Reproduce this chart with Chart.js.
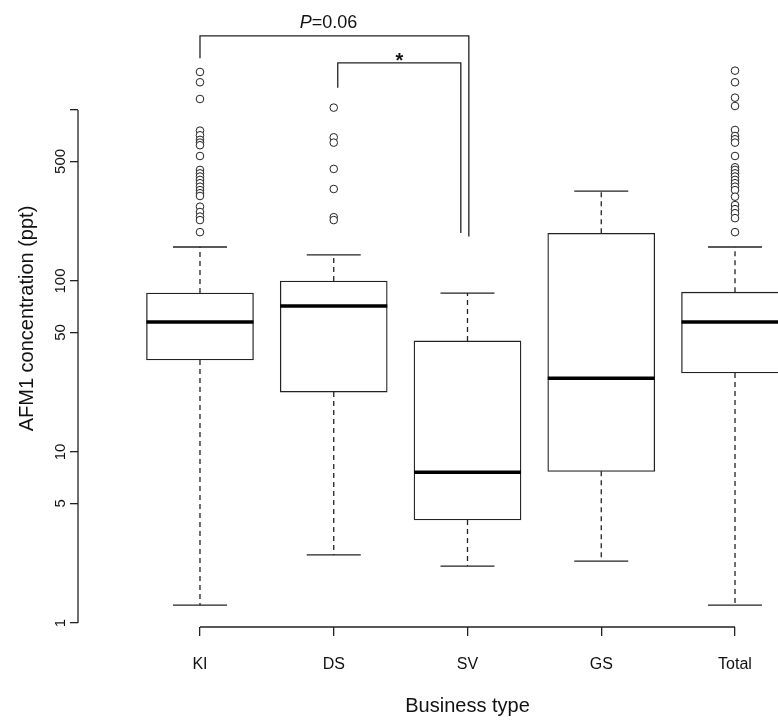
<!DOCTYPE html>
<html>
<head>
<meta charset="utf-8">
<script src="https://cdn.jsdelivr.net/npm/chart.js@4/dist/chart.umd.min.js"></script>
<style>
  html, body { margin: 0; padding: 0; background: #fff; overflow: hidden; }
  #wrap { width: 778px; height: 720px; overflow: hidden; }
</style>
</head>
<body>
<div id="wrap"><canvas id="boxChart" width="857" height="720"></canvas></div>
<script>
// box statistics (ppt)
const categories = ['KI', 'DS', 'SV', 'GS', 'Total'];
const lowerWhisker = [1.27, 2.5, 2.15, 2.3, 1.27];
const q1 = [34.5, 22.4, 4.0, 7.7, 29];
const median = [57.5, 71.4, 7.6, 27, 57.5];
const q3 = [85, 100, 44.6, 190, 86];
const upperWhisker = [158, 142, 85, 335, 158];

const kiOutliers = [1668, 1452, 1159, 757, 711, 668, 644, 622, 538, 446, 426, 408, 390, 373, 356, 340, 326, 314, 272, 253, 238, 227, 193];
const dsOutliers = [1032, 692, 644, 452, 345, 236, 227];
const svOutliers = [];
const gsOutliers = [];
const totalOutliers = [1698, 1452, 1180, 1055, 764, 704, 674, 644, 538, 462, 446, 426, 408, 390, 373, 356, 340, 311, 278, 263, 249, 233, 193];

const yTicks = [1, 5, 10, 50, 100, 500, 1000];
const yTickLabels = ['1', '5', '10', '50', '100', '500', ''];

// significance brackets (x in category index, y in ppt)
const bracketLeft = [0, 1.03];
const bracketRight = [2.01, 1.95];
const bracketTop = [2710, 1883];
const bracketLeftEnd = [2005, 1350];
const bracketRightEnd = [182, 191];
const bracketLabels = ['P=0.06', '*'];

const lineColor = '#222';
const font = '"Liberation Sans", Arial, sans-serif';
const allOutliers = [kiOutliers, dsOutliers, svOutliers, gsOutliers, totalOutliers];

const whiskerPts = [];
const capPts = [];
categories.forEach((c, i) => {
    whiskerPts.push({ x: i, y: q3[i] }, { x: i, y: upperWhisker[i] }, { x: i, y: null });
    whiskerPts.push({ x: i, y: q1[i] }, { x: i, y: lowerWhisker[i] }, { x: i, y: null });
    capPts.push({ x: i, y: upperWhisker[i] }, { x: i, y: lowerWhisker[i] });
});
const outlierPts = [];
allOutliers.forEach((arr, i) => arr.forEach(v => outlierPts.push({ x: i, y: v })));

const extras = {
    id: 'extras',
    afterDraw(chart) {
        const { ctx, scales: { x, y }, chartArea } = chart;
        ctx.save();
        ctx.strokeStyle = lineColor;
        ctx.lineWidth = 1.3;
        // R style axes: lines only span the first..last tick
        ctx.beginPath();
        ctx.moveTo(x.getPixelForValue(0), chartArea.bottom);
        ctx.lineTo(x.getPixelForValue(categories.length - 1), chartArea.bottom);
        ctx.moveTo(chartArea.left, y.getPixelForValue(yTicks[0]));
        ctx.lineTo(chartArea.left, y.getPixelForValue(yTicks[yTicks.length - 1]));
        ctx.stroke();

        bracketLabels.forEach((lab, i) => {
            const xl = x.getPixelForValue(bracketLeft[i]);
            const xr = x.getPixelForValue(bracketRight[i]);
            const yt = y.getPixelForValue(bracketTop[i]);
            ctx.beginPath();
            ctx.moveTo(xl, y.getPixelForValue(bracketLeftEnd[i]));
            ctx.lineTo(xl, yt);
            ctx.lineTo(xr, yt);
            ctx.lineTo(xr, y.getPixelForValue(bracketRightEnd[i]));
            ctx.stroke();

            ctx.fillStyle = '#111';
            ctx.textBaseline = 'alphabetic';
            const cx = (xl + xr) / 2;
            if (lab.startsWith('P')) {
                ctx.font = 'italic 18px ' + font;
                const pW = ctx.measureText('P').width;
                ctx.font = '18px ' + font;
                const rest = lab.slice(1);
                const rW = ctx.measureText(rest).width;
                const start = cx - 6 - (pW + rW) / 2;
                ctx.textAlign = 'left';
                ctx.font = 'italic 18px ' + font;
                ctx.fillText('P', start, yt - 8);
                ctx.font = '18px ' + font;
                ctx.fillText(rest, start + pW, yt - 8);
            } else {
                ctx.textAlign = 'center';
                ctx.font = 'bold 20px ' + font;
                ctx.fillText(lab, cx, yt + 4);
            }
        });
        ctx.restore();
    }
};

const chart = new Chart(document.getElementById('boxChart').getContext('2d'), {
    type: 'bar',
    data: {
        datasets: [
            {
                type: 'scatter',
                label: 'median',
                data: categories.map((c, i) => ({ x: i, y: median[i] })),
                pointStyle: 'line',
                pointRadius: 53.5,
                borderColor: '#000',
                borderWidth: 3.5,
                order: 0
            },
            {
                type: 'scatter',
                label: 'caps',
                data: capPts,
                pointStyle: 'line',
                pointRadius: 27,
                borderColor: lineColor,
                borderWidth: 1.3,
                order: 1
            },
            {
                type: 'scatter',
                label: 'outliers',
                data: outlierPts,
                pointStyle: 'circle',
                pointRadius: 3.8,
                backgroundColor: '#fff',
                borderColor: lineColor,
                borderWidth: 1,
                order: 1
            },
            {
                label: 'box',
                data: categories.map((c, i) => ({ x: i, y: [q1[i], q3[i]] })),
                backgroundColor: '#fff',
                borderColor: lineColor,
                borderWidth: 1.3,
                borderSkipped: false,
                barThickness: 107,
                order: 2
            },
            {
                type: 'line',
                label: 'whiskers',
                data: whiskerPts,
                borderColor: lineColor,
                borderWidth: 1.3,
                borderDash: [5, 4],
                pointRadius: 0,
                spanGaps: false,
                order: 3
            }
        ]
    },
    options: {
        responsive: false,
        devicePixelRatio: 1,
        animation: false,
        events: [],
        layout: { autoPadding: false, padding: { top: 10, left: 0, right: 0, bottom: 0 } },
        plugins: { legend: { display: false }, tooltip: { enabled: false } },
        scales: {
            x: {
                type: 'linear',
                offset: false,
                min: -0.912,
                max: 4.912,
                afterFit: s => { s.height = 93; },
                afterBuildTicks: s => { s.ticks = categories.map((c, i) => ({ value: i })); },
                grid: { display: true, offset: false, drawOnChartArea: false, tickLength: 9, color: lineColor, lineWidth: 1.3 },
                border: { display: false },
                ticks: {
                    autoSkip: false,
                    padding: 19,
                    color: '#111',
                    font: { family: font, size: 16 },
                    callback: v => categories[v]
                },
                title: {
                    display: true,
                    text: 'Business type',
                    color: '#111',
                    font: { family: font, size: 20 },
                    padding: { top: 0, bottom: 2 }
                }
            },
            y: {
                type: 'logarithmic',
                min: 0.947,
                max: 3842,
                afterFit: s => { s.width = 78; },
                afterBuildTicks: s => { s.ticks = yTicks.map(v => ({ value: v })); },
                grid: { display: true, drawOnChartArea: false, tickLength: 8, color: lineColor, lineWidth: 1.3 },
                border: { display: false },
                ticks: {
                    autoSkip: false,
                    minRotation: 90,
                    maxRotation: 90,
                    crossAlign: 'center',
                    padding: -3,
                    color: '#111',
                    font: { family: font, size: 15 },
                    callback: (v, idx) => yTickLabels[idx]
                },
                title: {
                    display: true,
                    text: 'AFM1 concentration (ppt)',
                    color: '#111',
                    font: { family: font, size: 20 },
                    padding: { top: 15, bottom: 0 }
                }
            }
        }
    },
    plugins: [extras]
});
</script>
</body>
</html>
